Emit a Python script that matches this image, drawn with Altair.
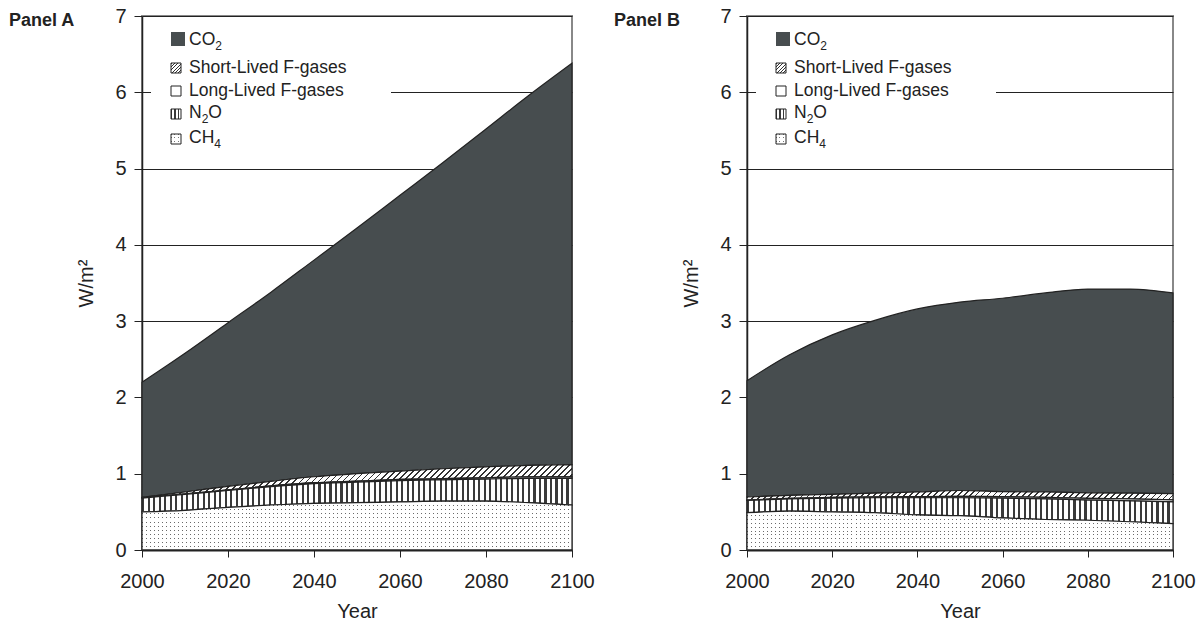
import altair as alt
import pandas as pd

# ---------------- data ----------------
YEARS = [2000, 2010, 2020, 2030, 2040, 2050, 2060, 2070, 2080, 2090, 2100]
GASES = ["CH4", "N2O", "Long-Lived F-gases", "Short-Lived F-gases", "CO2"]  # stacking order, bottom -> top

A_CH4 = [0.50, 0.52, 0.56, 0.59, 0.61, 0.62, 0.63, 0.64, 0.64, 0.62, 0.59]
A_N2O = [0.18, 0.21, 0.22, 0.24, 0.26, 0.27, 0.28, 0.28, 0.29, 0.32, 0.35]
A_LLF = [0.005, 0.006, 0.008, 0.010, 0.012, 0.014, 0.015, 0.016, 0.017, 0.018, 0.018]
A_SLF = [0.005, 0.024, 0.047, 0.060, 0.078, 0.096, 0.110, 0.129, 0.143, 0.152, 0.162]
A_CO2 = [1.51, 1.82, 2.145, 2.48, 2.84, 3.22, 3.615, 4.015, 4.43, 4.85, 5.26]

B_CH4 = [0.49, 0.51, 0.50, 0.49, 0.46, 0.45, 0.42, 0.40, 0.39, 0.37, 0.345]
B_N2O = [0.16, 0.16, 0.18, 0.195, 0.225, 0.235, 0.26, 0.27, 0.265, 0.275, 0.285]
B_LLF = [0.005, 0.007, 0.010, 0.012, 0.015, 0.017, 0.019, 0.021, 0.023, 0.025, 0.027]
B_SLF = [0.040, 0.038, 0.040, 0.048, 0.060, 0.078, 0.066, 0.069, 0.072, 0.075, 0.083]
B_CO2 = [1.525, 1.845, 2.09, 2.265, 2.40, 2.47, 2.535, 2.61, 2.67, 2.675, 2.63]

Y_TICKS = [0, 1, 2, 3, 4, 5, 6, 7]
X_TICKS = [2000, 2020, 2040, 2060, 2080, 2100]

# ---------------- styling ----------------
FONT = "Liberation Sans"
INK = "#222222"
CO2_FILL = "#474d4f"
H = 534
YMAX = 7
WA, WB = 430, 426


def _stops(n, frac, c_on, c_off):
    out = []
    for i in range(n):
        a, b, c = i / n, (i + frac) / n, (i + 1) / n
        out += [(a, c_on), (b, c_on), (b, c_off), (c, c_off)]
    return [{"offset": round(o, 5), "color": col} for o, col in out]


def vstripes(width_px, pitch, frac, c_on, c_off):
    n = max(1, round(width_px / pitch))
    return {"gradient": "linear", "x1": 0, "y1": 0, "x2": 1, "y2": 0,
            "stops": _stops(n, frac, c_on, c_off)}


def hstripes(height_px, pitch, frac, c_on, c_off):
    n = max(1, round(height_px / pitch))
    return {"gradient": "linear", "x1": 0, "y1": 0, "x2": 0, "y2": 1,
            "stops": _stops(n, frac, c_on, c_off)}


def diag(width_px, height_px, pitch, frac, c_on, c_off):
    r = height_px / width_px
    a = (width_px + height_px) / (width_px * (1 + r * r))
    n = max(1, round((width_px + height_px) / pitch))
    return {"gradient": "linear", "x1": 0, "y1": 0, "x2": a, "y2": a * r,
            "stops": _stops(n, frac, c_on, c_off)}


ONE = pd.DataFrame({"k": [0]})


def text_layer(x, y, txt, size=17.5, weight="normal", align="left"):
    return alt.Chart(ONE).mark_text(
        font=FONT, fontSize=size, fontWeight=weight, color=INK,
        align=align, baseline="middle"
    ).encode(x=alt.value(x), y=alt.value(y), text=alt.value(txt))


def rect_layer(x, y, x2, y2, fill, stroke=None, sw=1):
    kw = dict(fill=fill)
    if stroke:
        kw.update(stroke=stroke, strokeWidth=sw)
    return alt.Chart(ONE).mark_rect(**kw).encode(
        x=alt.value(x), x2=alt.value(x2), y=alt.value(y), y2=alt.value(y2))


def panel(title, series, W):
    rows = []
    for gi, (g, vals) in enumerate(zip(GASES, series)):
        for yr, v in zip(YEARS, vals):
            rows.append({"year": yr, "gas": g, "order": gi, "value": v})
    df = pd.DataFrame(rows)
    ch4, n2o, llf, slf, co2 = series
    ppu = H / YMAX

    xenc = alt.X("year:Q", title="Year",
                 scale=alt.Scale(domain=[2000, 2100], nice=False, zero=False),
                 axis=alt.Axis(values=X_TICKS, format="d", grid=False, zindex=1,
                               domainColor=INK, domainWidth=2, tickColor=INK, tickSize=7,
                               labelFontSize=20, labelColor=INK, labelPadding=14, labelFont=FONT,
                               labelFlush=False, labelOverlap=False,
                               titleFontSize=20, titleColor=INK, titleFont=FONT,
                               titleFontWeight="normal", titlePadding=10))
    yenc = alt.Y("hi:Q", title="W/m²",
                 scale=alt.Scale(domain=[0, YMAX], nice=False),
                 axis=alt.Axis(values=Y_TICKS, format="d", grid=True, zindex=0,
                               gridColor=INK, gridWidth=1, domainColor=INK, domainWidth=1.5,
                               tickColor=INK, tickSize=8, labelFontSize=20, labelColor=INK,
                               labelPadding=8, labelFont=FONT,
                               titleFontSize=20, titleColor=INK, titleFont=FONT,
                               titleFontWeight="normal", titlePadding=18))
    y2enc = alt.Y2("lo:Q")

    base = alt.Chart(df).transform_stack(
        stack="value", groupby=["year"], as_=["lo", "hi"],
        sort=[alt.SortField("order", order="ascending")])

    def area(gas, fill, stroke=True):
        kw = dict(interpolate="monotone", fill=fill)
        if stroke:
            kw.update(stroke=INK, strokeWidth=1.2)
        else:
            kw.update(strokeWidth=0)
        return base.transform_filter(alt.datum.gas == gas).mark_area(**kw).encode(
            x=xenc, y=yenc, y2=y2enc)

    # bbox sizes for the textures
    ll_top = [a + b + c for a, b, c in zip(ch4, n2o, llf)]
    sl_top = [a + b for a, b in zip(ll_top, slf)]
    sl_h = (max(sl_top) - min(ll_top)) * ppu
    ch4_h = max(ch4) * ppu

    layers = [
        area("CO2", CO2_FILL),
        area("Short-Lived F-gases", diag(W, sl_h, 6.0, 0.3, "#333333", "#ffffff")),
        area("Long-Lived F-gases", "#ffffff"),
        area("N2O", vstripes(W, 5.5, 0.38, "#3a3a3a", "#ffffff")),
        area("CH4", vstripes(W, 4.0, 0.25, "#6a6a6a", "#ffffff"), stroke=False),
        area("CH4", hstripes(ch4_h, 4.0, 0.25, "rgba(255,255,255,0)", "#ffffff")),
    ]

    # ---- legend (inside the plot, white box) ----
    layers.append(rect_layer(9, 1, 249, 147, "#ffffff"))
    sx = 29
    layers.append(rect_layer(sx, 16, sx + 14, 30, CO2_FILL))
    layers.append(rect_layer(sx, 47, sx + 10, 57, diag(10, 10, 3.5, 0.3, "#333333", "#ffffff"), INK, 1))
    layers.append(rect_layer(sx, 70, sx + 10, 80, "#ffffff", INK, 1))
    layers.append(rect_layer(sx, 93, sx + 10, 103, vstripes(10, 3.3, 0.4, "#3a3a3a", "#ffffff"), INK, 1))
    layers.append(rect_layer(sx, 118, sx + 10, 128, vstripes(10, 3.3, 0.3, "#777777", "#ffffff")))
    layers.append(rect_layer(sx, 118, sx + 10, 128, hstripes(10, 3.3, 0.3, "rgba(255,255,255,0)", "#ffffff"), INK, 1))

    tx = 47
    fs, ss = 17.5, 12
    layers += [
        text_layer(tx, 24, "CO", fs),
        text_layer(tx + 1.5 * fs, 30, "2", ss),
        text_layer(tx, 52, "Short-Lived F-gases", fs),
        text_layer(tx, 75, "Long-Lived F-gases", fs),
        text_layer(tx, 97, "N", fs),
        text_layer(tx + 0.722 * fs, 103, "2", ss),
        text_layer(tx + 0.722 * fs + 0.556 * ss, 97, "O", fs),
        text_layer(tx, 122, "CH", fs),
        text_layer(tx + 1.444 * fs, 128, "4", ss),
    ]
    # panel label
    layers.append(text_layer(-133, 5, title, 18, "bold"))

    return alt.layer(*layers).properties(width=W, height=H)


pa = panel("Panel A", [A_CH4, A_N2O, A_LLF, A_SLF, A_CO2], WA)
pb = panel("Panel B", [B_CH4, B_N2O, B_LLF, B_SLF, B_CO2], WB)

chart = alt.hconcat(pa, pb, spacing=175, bounds="flush").properties(
    padding={"left": 8, "top": 5, "right": 0, "bottom": 0},
    background="#ffffff",
).configure_view(stroke="#888888", strokeWidth=2).configure_text(font=FONT)

chart.save("out.html", embed_options={"renderer": "svg", "actions": False})
